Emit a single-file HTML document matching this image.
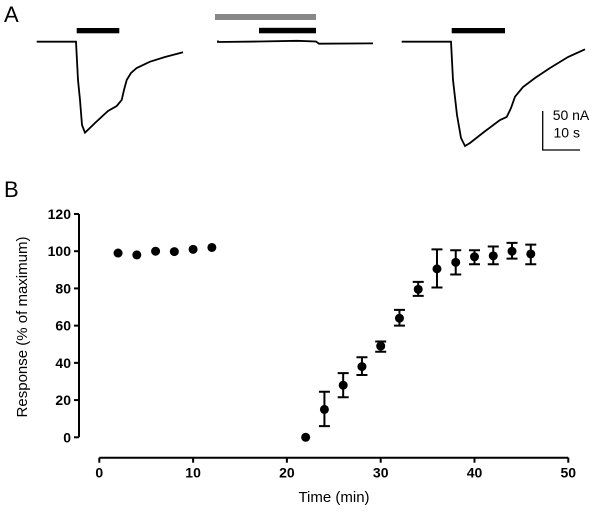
<!DOCTYPE html>
<html><head><meta charset="utf-8"><style>
body{margin:0;background:#fff}
svg{display:block;font-family:"Liberation Sans",Arial,sans-serif}
</style></head><body>
<svg width="600" height="513" viewBox="0 0 600 513">
<text x="4" y="22" font-size="22">A</text>
<g fill="none" stroke="#000" stroke-width="1.8">
<path d="M36.7,41.7 L76,41.7 L78,80 L80,100 L82,125 L85,132.7 L95,123 L108,111 L116.7,106 L121.7,100 L124,90 L126.7,80 L131,73 L136.7,68 L150,61.7 L165,57 L183,52.3"/>
<path d="M218,40.5 L218,42 L259,41.5 L297,40.8 L316,41.5 L319,43.7 L373,43.4"/>
<path d="M401.7,41.7 L451,41.7 L453,80 L457,115 L461,138 L465,146 L470,143 L484,132 L500,120 L506.7,117 L511,108 L515,96.7 L523,87 L535,78 L550,68 L568,57 L585,49.3"/>
</g>
<rect x="76.7" y="28" width="42.6" height="5.3" fill="#000"/>
<rect x="215" y="14" width="101" height="6" fill="#888"/>
<rect x="259" y="27.8" width="57" height="5.5" fill="#000"/>
<rect x="451.7" y="28" width="53.3" height="5.3" fill="#000"/>
<path d="M542.7,111 L542.7,150 L580,150" fill="none" stroke="#000" stroke-width="1.3"/>
<text x="552.7" y="120" font-size="14">50 nA</text>
<text x="553.5" y="137.7" font-size="14">10 s</text>
<text x="4" y="197" font-size="22">B</text>
<g id="chart"></g>
<text transform="translate(27,327) rotate(-90)" text-anchor="middle" font-size="15">Response (% of maximum)</text>
<text x="334" y="502" text-anchor="middle" font-size="15">Time (min)</text>
</svg>
<script>
const xs=[2,4,6,8,10,12,22,24,26,28,30,32,34,36,38,40,42,44,46];
const ys=[99,98,100,99.8,101,102,0,15,28,38,49,64,79.5,90.5,94,97,97.5,100,98.5];
const errLo=[null,null,null,null,null,null,null,6,21.5,33.5,46,60,76,80.5,87.5,93,93,96,93];
const errHi=[null,null,null,null,null,null,null,24.5,34.5,43,51.5,68.5,83.5,101,100.5,100.5,102.5,104.5,103.5];
const yTicks=[0,20,40,60,80,100,120];
const xTicks=[0,10,20,30,40,50];
const NS="http://www.w3.org/2000/svg";
const g=document.getElementById('chart');
function X(v){return 99.3+v*9.38;}
function Y(v){return 437.3-v*1.861;}
const XA=457.7, YA=79;
function mk(t,a){const e=document.createElementNS(NS,t);for(const k in a)e.setAttribute(k,a[k]);g.appendChild(e);return e;}
let e=mk('line',{x1:YA,x2:YA,y1:Y(120),y2:Y(0),stroke:'#000','stroke-width':2});


yTicks.forEach(t=>{
 let l=mk('line',{x1:YA-5,x2:YA,y1:Y(t),y2:Y(t),stroke:'#000','stroke-width':2});
 
 
 let s=mk('text',{x:YA-8,y:Y(t)+5,'text-anchor':'end','font-size':14,'font-weight':'bold'});s.textContent=t;
 
 
});
e=mk('line',{x1:X(0),x2:X(50),y1:XA,y2:XA,stroke:'#000','stroke-width':2});


xTicks.forEach(t=>{
 let l=mk('line',{x1:X(t),x2:X(t),y1:XA,y2:XA+5,stroke:'#000','stroke-width':2});
 
 
 let s=mk('text',{x:X(t),y:XA+20,'text-anchor':'middle','font-size':14,'font-weight':'bold'});s.textContent=t;
 
 
});
xs.forEach((x,i)=>{
 if(errLo[i]!==null){
  const cx=X(x);
  let p=mk('path',{d:`M${cx},${Y(errLo[i])}V${Y(errHi[i])}M${cx-5.5},${Y(errLo[i])}H${cx+5.5}M${cx-5.5},${Y(errHi[i])}H${cx+5.5}`,stroke:'#000','stroke-width':2,fill:'none'});
  
  
 }
 let c=mk('circle',{cx:X(x),cy:Y(ys[i]),r:4.5,fill:'#000'});
 
 
});
</script>
</body></html>
